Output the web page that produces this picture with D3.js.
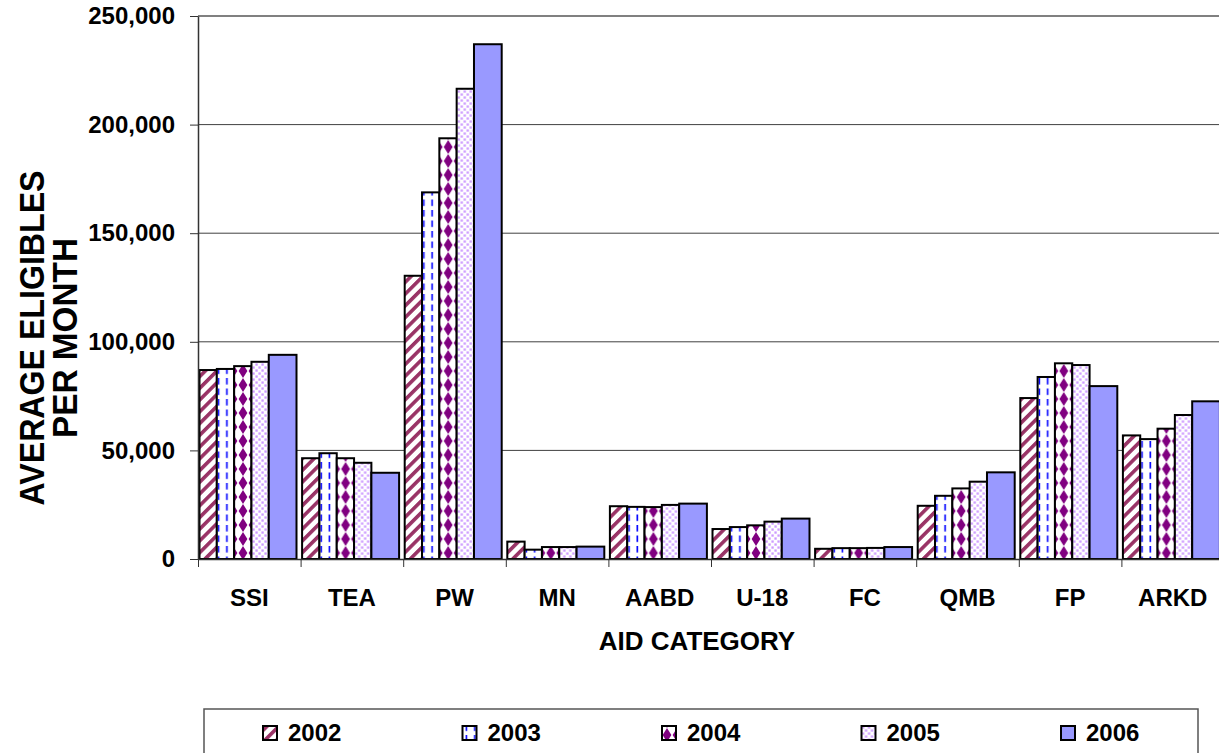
<!DOCTYPE html>
<html>
<head>
<meta charset="utf-8">
<script src="https://cdn.jsdelivr.net/npm/d3@7/dist/d3.min.js"></script>
<style>
  body { margin: 0; background: #fff; }
  text { font-family: Arial, "Liberation Sans", sans-serif; font-weight: bold; fill: #000; }
</style>
</head>
<body>
<svg id="chart" width="1219" height="753"></svg>
<script>
// aid categories on the x axis
var categories = ["SSI", "TEA", "PW", "MN", "AABD", "U-18", "FC", "QMB", "FP", "ARKD"];
var years = ["2002", "2003", "2004", "2005", "2006"];

// average eligibles per month
var v2002 = [87000, 46400, 130400, 8000, 24300, 13800, 4700, 24500, 74100, 56900];
var v2003 = [87500, 48700, 168800, 4300, 24000, 14700, 5000, 29100, 83800, 55200];
var v2004 = [88800, 46400, 193700, 5500, 23900, 15500, 5000, 32500, 90100, 60000];
var v2005 = [90800, 44300, 216500, 5500, 24900, 17200, 5100, 35600, 89300, 66300];
var v2006 = [94000, 39700, 237000, 5700, 25500, 18600, 5500, 39900, 79600, 72600];

var yTicks = [0, 50000, 100000, 150000, 200000, 250000];

var series = [v2002, v2003, v2004, v2005, v2006];

var svg = d3.select("#chart");
var width = 1219, height = 753;

// plot area (runs a little past the right edge, like the original)
var plotLeft = 198, plotTop = 16, plotBottom = 559, step = 102.6;

var x = d3.scaleBand()
    .domain(categories)
    .range([plotLeft, plotLeft + step * categories.length]);

var y = d3.scaleLinear()
    .domain([0, 250000])
    .range([plotBottom, plotTop]);

// last bar of every group is drawn wider in the source chart
var widthUnits = [1, 1, 1, 1, 1.6];
var edges = d3.cumsum([0].concat(widthUnits));
var inner = d3.scaleLinear().domain([0, d3.sum(widthUnits)]).range([1.5, 98.5]);

// ---- fill patterns ----
var defs = svg.append("defs");

var p0 = defs.append("pattern").attr("id", "pat0")
    .attr("patternUnits", "userSpaceOnUse")
    .attr("width", 8.3).attr("height", 8.3)
    .attr("patternTransform", "rotate(45)");
p0.append("rect").attr("width", 8.3).attr("height", 8.3).attr("fill", "#fff");
p0.append("rect").attr("width", 3.6).attr("height", 8.3).attr("fill", "#993366");

var p1 = defs.append("pattern").attr("id", "pat1")
    .attr("patternUnits", "userSpaceOnUse")
    .attr("width", 8.3).attr("height", 10.5);
p1.append("rect").attr("width", 8.3).attr("height", 10.5).attr("fill", "#fff");
p1.append("line").attr("x1", 4).attr("x2", 4).attr("y1", 0).attr("y2", 6.5)
    .attr("stroke", "#0000ff").attr("stroke-width", 1.6);

var p2 = defs.append("pattern").attr("id", "pat2")
    .attr("patternUnits", "userSpaceOnUse")
    .attr("width", 10).attr("height", 14);
p2.append("rect").attr("width", 10).attr("height", 14).attr("fill", "#fff");
p2.append("path").attr("d", "M5,0 L9.4,7 L5,14 L0.6,7 Z").attr("fill", "#800080");

var p3 = defs.append("pattern").attr("id", "pat3")
    .attr("patternUnits", "userSpaceOnUse")
    .attr("width", 6).attr("height", 6);
p3.append("rect").attr("width", 6).attr("height", 6).attr("fill", "#fff");
p3.append("rect").attr("x", 0.4).attr("y", 0.4).attr("width", 2.3).attr("height", 2.3).attr("fill", "#cc99ff");
p3.append("rect").attr("x", 3.4).attr("y", 3.4).attr("width", 2.3).attr("height", 2.3).attr("fill", "#cc99ff");

var fills = ["url(#pat0)", "url(#pat1)", "url(#pat2)", "url(#pat3)", "#9999ff"];

// ---- gridlines ----
svg.append("g")
    .selectAll("line")
    .data(yTicks.slice(1))
    .join("line")
    .attr("x1", plotLeft).attr("x2", width)
    .attr("y1", d => y(d)).attr("y2", d => y(d))
    .attr("stroke", d => d == 250000 ? "#808080" : "#404040")
    .attr("stroke-width", d => d == 250000 ? 2 : 1);

// ---- bars ----
var groups = svg.append("g")
    .selectAll("g")
    .data(categories)
    .join("g")
    .attr("transform", d => "translate(" + x(d) + ",0)");

groups.selectAll("rect")
    .data((c, ci) => series.map((s, si) => ({ si: si, v: s[ci] })))
    .join("rect")
    .attr("x", d => inner(edges[d.si]))
    .attr("width", d => inner(edges[d.si + 1]) - inner(edges[d.si]))
    .attr("y", d => y(d.v))
    .attr("height", d => y(0) - y(d.v))
    .attr("fill", d => fills[d.si])
    .attr("stroke", "#000")
    .attr("stroke-width", 2);

// ---- y axis ----
var yAxis = svg.append("g")
    .attr("transform", "translate(" + plotLeft + ",0)")
    .call(d3.axisLeft(y).tickValues(yTicks).tickSize(8).tickSizeOuter(0)
        .tickPadding(15).tickFormat(d3.format(",")));
yAxis.select(".domain").attr("stroke", "#333").attr("stroke-width", 1.5);
yAxis.selectAll(".tick line").attr("stroke", "#333");
yAxis.selectAll("text").style("font-size", "24px").attr("fill", "#000");

// ---- x axis: ticks between groups, labels centred ----
var xb = d3.scaleLinear().domain([0, categories.length]).range([plotLeft, plotLeft + step * categories.length]);
var xAxis = svg.append("g")
    .attr("transform", "translate(0," + plotBottom + ")")
    .call(d3.axisBottom(xb).tickValues(d3.range(0, categories.length + 1)).tickSize(8)
        .tickSizeOuter(0).tickFormat(""));
xAxis.select(".domain").attr("stroke", "#333").attr("stroke-width", 1.5);
xAxis.selectAll(".tick line").attr("stroke", "#333");

var xLabels = svg.append("g")
    .attr("transform", "translate(0," + plotBottom + ")")
    .call(d3.axisBottom(x).tickSize(0).tickPadding(30));
xLabels.select(".domain").remove();
xLabels.selectAll("text").style("font-size", "24px").attr("fill", "#000");

// ---- axis titles ----
svg.append("text")
    .attr("x", 697).attr("y", 650)
    .attr("text-anchor", "middle")
    .style("font-size", "26px")
    .text("AID CATEGORY");

var yTitle = svg.append("text")
    .attr("transform", "translate(0,338) rotate(-90)")
    .attr("text-anchor", "middle")
    .style("font-size", "35px");
yTitle.append("tspan").attr("x", 0).attr("y", 44)
    .attr("textLength", 335).attr("lengthAdjust", "spacingAndGlyphs")
    .text("AVERAGE ELIGIBLES");
yTitle.append("tspan").attr("x", 0).attr("y", 77)
    .attr("textLength", 200).attr("lengthAdjust", "spacingAndGlyphs")
    .text("PER MONTH");

// ---- legend ----
var legend = svg.append("g");
legend.append("rect")
    .attr("x", 204).attr("y", 709)
    .attr("width", 994).attr("height", 80)
    .attr("fill", "#fff")
    .attr("stroke", "#555").attr("stroke-width", 1.5);

var item = legend.selectAll("g.item")
    .data(years)
    .join("g")
    .attr("class", "item")
    .attr("transform", (d, i) => "translate(" + (263 + i * 199.5) + ",0)");

item.append("rect")
    .attr("x", 0).attr("y", 726)
    .attr("width", 14).attr("height", 14)
    .attr("fill", (d, i) => fills[i])
    .attr("stroke", "#000").attr("stroke-width", 2);

item.append("text")
    .attr("x", 25).attr("y", 741)
    .style("font-size", "24px")
    .text(d => d);
</script>
</body>
</html>
